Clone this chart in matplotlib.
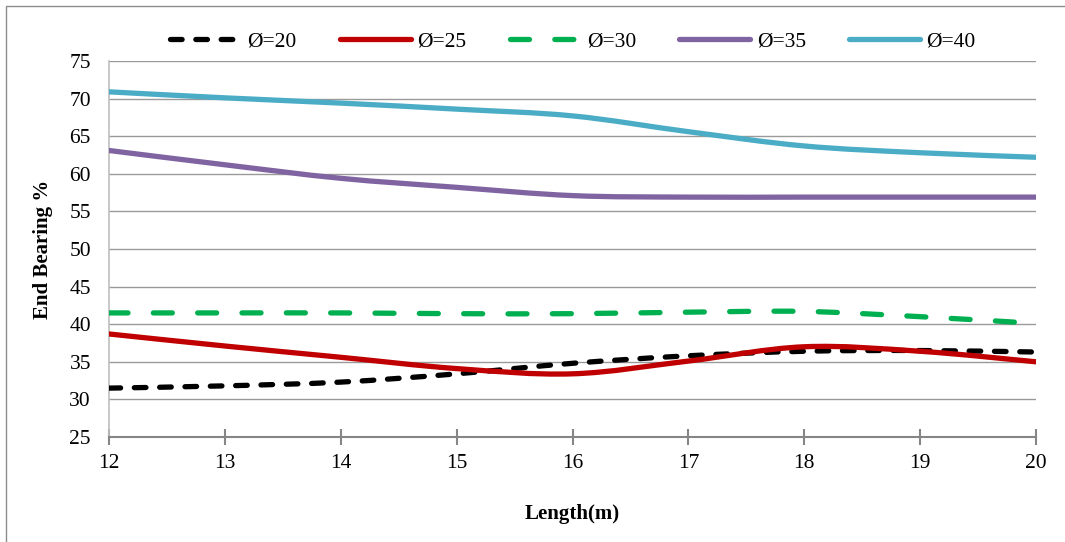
import matplotlib
matplotlib.use("Agg")
import matplotlib.pyplot as plt
from matplotlib.path import Path
from matplotlib.patches import PathPatch, Rectangle
from matplotlib.lines import Line2D

lengths = [12, 13, 14, 15, 16, 17, 18, 19, 20]
d20 = [31.5, 31.8, 32.3, 33.4, 34.8, 35.8, 36.4, 36.5, 36.3]
d25 = [38.7, 37.1, 35.6, 34.1, 33.4, 35.1, 37.0, 36.4, 35.0]
d30 = [41.5, 41.5, 41.5, 41.4, 41.4, 41.6, 41.7, 41.0, 40.1]
d35 = [63.1, 61.2, 59.4, 58.2, 57.1, 56.9, 56.9, 56.9, 56.9]
d40 = [70.9, 70.1, 69.4, 68.6, 67.7, 65.6, 63.7, 62.8, 62.2]
labels = ["Ø=20", "Ø=25", "Ø=30", "Ø=35", "Ø=40"]
yticks = [25, 30, 35, 40, 45, 50, 55, 60, 65, 70, 75]

series = [d20, d25, d30, d35, d40]
colors = ["#000000", "#C00000", "#00B050", "#8064A2", "#4BACC6"]
styles = [(0, (2.2, 2.6)), "solid", (0, (3.6, 4.8)), "solid", "solid"]

plt.rcParams["font.family"] = ["Liberation Serif", "DejaVu Serif"]

fig = plt.figure(figsize=(10.65, 5.42), dpi=100)
ax = fig.add_axes([109/1065, 1-437/542, (1036-109)/1065, (437-61)/542])


def smooth_path(xs, ys):
    pts = list(zip(xs, ys))
    n = len(pts)
    verts = [pts[0]]
    codes = [Path.MOVETO]
    for i in range(n - 1):
        p0 = pts[i - 1] if i > 0 else pts[i]
        p1 = pts[i]
        p2 = pts[i + 1]
        p3 = pts[i + 2] if i + 2 < n else pts[i + 1]
        c1 = (p1[0] + (p2[0] - p0[0]) / 6, p1[1] + (p2[1] - p0[1]) / 6)
        c2 = (p2[0] - (p3[0] - p1[0]) / 6, p2[1] - (p3[1] - p1[1]) / 6)
        verts += [c1, c2, p2]
        codes += [Path.CURVE4] * 3
    return Path(verts, codes)


lw = 3.8
handles = []
for ys, c, ls, lab in zip(series, colors, styles, labels):
    patch = PathPatch(smooth_path(lengths, ys), fill=False, edgecolor=c,
                      lw=lw, linestyle=ls, capstyle="round", joinstyle="round",
                      zorder=3)
    ax.add_patch(patch)
    handles.append(Line2D([], [], color=c, lw=lw, linestyle=ls,
                          dash_capstyle="round", solid_capstyle="round"))

ax.set_xlim(12, 20)
ax.set_ylim(25, 75)
ax.set_xticks(lengths)
ax.set_yticks(yticks)
ax.yaxis.grid(True, color="#9A9A9A", lw=1.0)
ax.set_axisbelow(True)
for s in ["top", "right"]:
    ax.spines[s].set_visible(False)
ax.spines["left"].set_color("#BFBFBF")
ax.spines["left"].set_linewidth(1.2)
ax.spines["bottom"].set_color("#868686")
ax.spines["bottom"].set_linewidth(1.5)
ax.tick_params(axis="y", length=0, pad=13, labelsize=15.5)
ax.tick_params(axis="x", direction="inout", length=12, width=1.5,
               color="#868686", pad=6, labelsize=15.5)

ax.set_xlabel("Length(m)", fontsize=15, fontweight="bold")
ax.set_ylabel("End Bearing %", fontsize=15, fontweight="bold", va="center")
ax.xaxis.set_label_coords(0.5, -0.178)
ax.yaxis.set_label_coords(-0.0707, 0.5)

fig.legend(handles, labels, loc="center", bbox_to_anchor=(0.538, 0.923),
           ncol=5, frameon=False, fontsize=15.5, handlelength=3.3,
           handletextpad=0.3, columnspacing=2.0)

fig.patches.append(Rectangle((6/1065, -0.01), 1.1, (542-6)/542 + 0.01,
                             transform=fig.transFigure,
                             fill=False, edgecolor="#8C8C8C", lw=1.0))

fig.savefig("out.png", dpi=100)
